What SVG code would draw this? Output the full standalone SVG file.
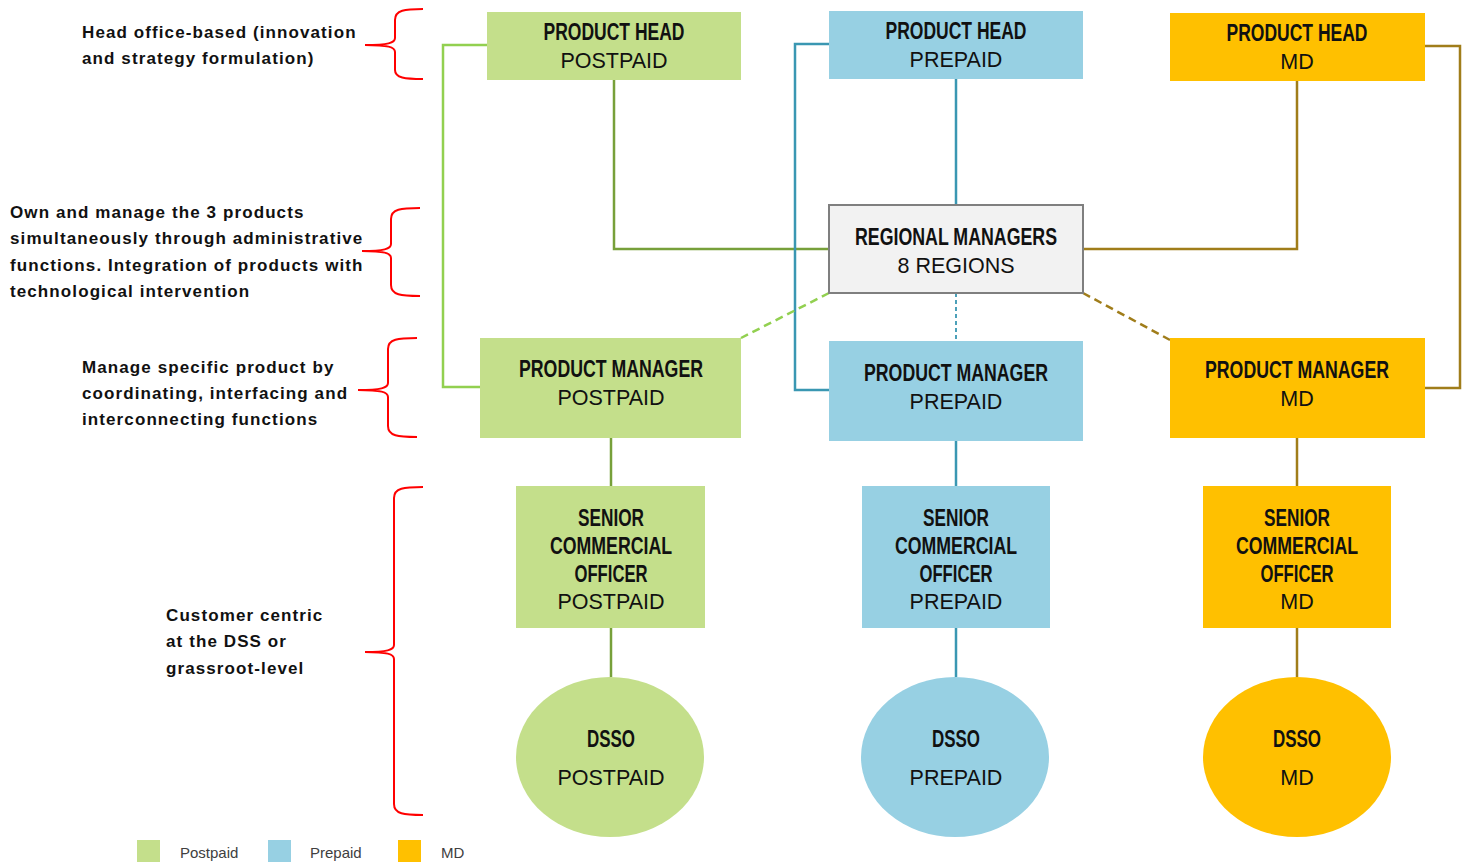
<svg xmlns="http://www.w3.org/2000/svg" width="1467" height="865" viewBox="0 0 1467 865">
<style>
.bg{fill:#ffffff}
.post{fill:#C4DF8B}
.pre{fill:#97D0E3}
.md{fill:#FFC000}
.rm{fill:#F2F2F2;stroke:#7F7F7F;stroke-width:2}
.t{font-family:"Liberation Sans",Arial,sans-serif;font-weight:bold;font-size:24px;fill:#111;text-anchor:middle}
.s{font-family:"Liberation Sans",Arial,sans-serif;font-size:21.5px;fill:#111;text-anchor:middle}
.n{font-family:"Liberation Sans",Arial,sans-serif;font-weight:bold;font-size:17px;letter-spacing:1.1px;fill:#111}
.lg{font-family:"Liberation Sans",Arial,sans-serif;font-size:15px;fill:#404040}
.br{fill:none;stroke:#FF0000;stroke-width:2}
.c{fill:none;stroke-width:2.5}
.lgn{stroke:#92D050}
.dgn{stroke:#77A03A}
.blu{stroke:#3A97B2}
.gld{stroke:#A07D1A}
.dash{stroke-dasharray:8 5}
.dot{stroke-dasharray:4 3;stroke-width:1.8}
</style>
<rect class="bg" x="0" y="0" width="1467" height="865"/>

<g id="connectors">
<polyline class="c lgn" points="487,45 443,45 443,387 480,387"/>
<polyline class="c dgn" points="614,80 614,249 829,249"/>
<polyline class="c blu" points="829,44 795,44 795,390 829,390"/>
<line class="c blu" x1="956" y1="79" x2="956" y2="205"/>
<polyline class="c gld" points="1425,46 1460,46 1460,388 1425,388"/>
<polyline class="c gld" points="1297,81 1297,249 1083,249"/>
<line class="c lgn dash" x1="829" y1="293" x2="741" y2="338"/>
<line class="c gld dash" x1="1083" y1="293" x2="1170" y2="340"/>
<line class="c blu dot" x1="956" y1="293" x2="956" y2="341"/>
<line class="c dgn" x1="611" y1="438" x2="611" y2="486"/>
<line class="c dgn" x1="611" y1="628" x2="611" y2="677"/>
<line class="c blu" x1="956" y1="441" x2="956" y2="486"/>
<line class="c blu" x1="956" y1="628" x2="956" y2="677"/>
<line class="c gld" x1="1297" y1="438" x2="1297" y2="486"/>
<line class="c gld" x1="1297" y1="628" x2="1297" y2="677"/>
</g>

<g id="braces">
<path class="br" d="M423,9 C405,9 395,10 395,20 L395,38 C395,43 388,45 365,45 C388,45 395,47 395,52 L395,70 C395,78 405,79 423,79"/>
<path class="br" d="M420,208 C401,208 391,209 391,219 L391,244 C391,249 384,251 362,251 C384,251 391,253 391,258 L391,285 C391,295 401,296 420,296"/>
<path class="br" d="M417,338 C398,338 388,339 388,349 L388,383 C388,388 381,390 358,390 C381,390 388,392 388,397 L388,426 C388,436 398,437 417,437"/>
<path class="br" d="M423,487 C404,487 394,488 394,498 L394,645 C394,650 387,652 365,652 C387,652 394,654 394,659 L394,804 C394,814 404,815 423,815"/>
</g>

<g id="notes">
<text class="n" x="82" y="38">Head office-based (innovation</text>
<text class="n" x="82" y="64">and strategy formulation)</text>
<text class="n" x="10" y="218">Own and manage the 3 products</text>
<text class="n" x="10" y="244">simultaneously through administrative</text>
<text class="n" x="10" y="271">functions. Integration of products with</text>
<text class="n" x="10" y="297">technological intervention</text>
<text class="n" x="82" y="373">Manage specific product by</text>
<text class="n" x="82" y="399">coordinating, interfacing and</text>
<text class="n" x="82" y="425">interconnecting functions</text>
<text class="n" x="166" y="621">Customer centric</text>
<text class="n" x="166" y="647">at the DSS or</text>
<text class="n" x="166" y="674">grassroot-level</text>
</g>

<g id="head-postpaid">
<rect class="post" x="487" y="12" width="254" height="68"/>
<text class="t" x="614" y="40" textLength="141" lengthAdjust="spacingAndGlyphs">PRODUCT HEAD</text>
<text class="s" x="614" y="68">POSTPAID</text>
</g>
<g id="head-prepaid">
<rect class="pre" x="829" y="11" width="254" height="68"/>
<text class="t" x="956" y="39" textLength="141" lengthAdjust="spacingAndGlyphs">PRODUCT HEAD</text>
<text class="s" x="956" y="67">PREPAID</text>
</g>
<g id="head-md">
<rect class="md" x="1170" y="13" width="255" height="68"/>
<text class="t" x="1297" y="41" textLength="141" lengthAdjust="spacingAndGlyphs">PRODUCT HEAD</text>
<text class="s" x="1297" y="69">MD</text>
</g>

<g id="regional-managers">
<rect class="rm" x="829" y="205" width="254" height="88"/>
<text class="t" x="956" y="245" textLength="202" lengthAdjust="spacingAndGlyphs">REGIONAL MANAGERS</text>
<text class="s" x="956" y="273">8 REGIONS</text>
</g>

<g id="pm-postpaid">
<rect class="post" x="480" y="338" width="261" height="100"/>
<text class="t" x="611" y="377" textLength="184" lengthAdjust="spacingAndGlyphs">PRODUCT MANAGER</text>
<text class="s" x="611" y="405">POSTPAID</text>
</g>
<g id="pm-prepaid">
<rect class="pre" x="829" y="341" width="254" height="100"/>
<text class="t" x="956" y="381" textLength="184" lengthAdjust="spacingAndGlyphs">PRODUCT MANAGER</text>
<text class="s" x="956" y="409">PREPAID</text>
</g>
<g id="pm-md">
<rect class="md" x="1170" y="338" width="255" height="100"/>
<text class="t" x="1297" y="378" textLength="184" lengthAdjust="spacingAndGlyphs">PRODUCT MANAGER</text>
<text class="s" x="1297" y="406">MD</text>
</g>

<g id="sco-postpaid">
<rect class="post" x="516" y="486" width="189" height="142"/>
<text class="t" x="611" y="526" textLength="66" lengthAdjust="spacingAndGlyphs">SENIOR</text>
<text class="t" x="611" y="554" textLength="122" lengthAdjust="spacingAndGlyphs">COMMERCIAL</text>
<text class="t" x="611" y="582" textLength="73" lengthAdjust="spacingAndGlyphs">OFFICER</text>
<text class="s" x="611" y="609">POSTPAID</text>
</g>
<g id="sco-prepaid">
<rect class="pre" x="862" y="486" width="188" height="142"/>
<text class="t" x="956" y="526" textLength="66" lengthAdjust="spacingAndGlyphs">SENIOR</text>
<text class="t" x="956" y="554" textLength="122" lengthAdjust="spacingAndGlyphs">COMMERCIAL</text>
<text class="t" x="956" y="582" textLength="73" lengthAdjust="spacingAndGlyphs">OFFICER</text>
<text class="s" x="956" y="609">PREPAID</text>
</g>
<g id="sco-md">
<rect class="md" x="1203" y="486" width="188" height="142"/>
<text class="t" x="1297" y="526" textLength="66" lengthAdjust="spacingAndGlyphs">SENIOR</text>
<text class="t" x="1297" y="554" textLength="122" lengthAdjust="spacingAndGlyphs">COMMERCIAL</text>
<text class="t" x="1297" y="582" textLength="73" lengthAdjust="spacingAndGlyphs">OFFICER</text>
<text class="s" x="1297" y="609">MD</text>
</g>

<g id="dsso-postpaid">
<ellipse class="post" cx="610" cy="757" rx="94" ry="80"/>
<text class="t" x="611" y="747" textLength="48" lengthAdjust="spacingAndGlyphs">DSSO</text>
<text class="s" x="611" y="785">POSTPAID</text>
</g>
<g id="dsso-prepaid">
<ellipse class="pre" cx="955" cy="757" rx="94" ry="80"/>
<text class="t" x="956" y="747" textLength="48" lengthAdjust="spacingAndGlyphs">DSSO</text>
<text class="s" x="956" y="785">PREPAID</text>
</g>
<g id="dsso-md">
<ellipse class="md" cx="1297" cy="757" rx="94" ry="80"/>
<text class="t" x="1297" y="747" textLength="48" lengthAdjust="spacingAndGlyphs">DSSO</text>
<text class="s" x="1297" y="785">MD</text>
</g>

<g id="legend">
<rect class="post" x="137" y="840" width="23" height="22"/>
<text class="lg" x="180" y="858">Postpaid</text>
<rect class="pre" x="268" y="840" width="23" height="22"/>
<text class="lg" x="310" y="858">Prepaid</text>
<rect class="md" x="398" y="840" width="23" height="22"/>
<text class="lg" x="441" y="858">MD</text>
</g>
</svg>
